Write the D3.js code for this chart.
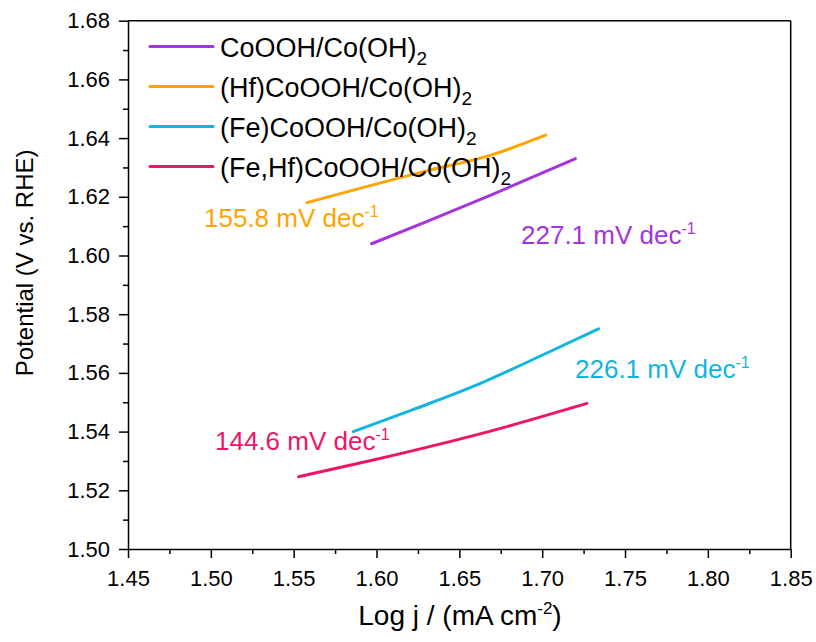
<!DOCTYPE html>
<html>
<head>
<meta charset="utf-8">
<script src="https://cdn.jsdelivr.net/npm/d3@7"></script>
<style>
  body { margin: 0; background: #fff; }
  text { font-family: "Liberation Sans", Arial, sans-serif; fill: #000; }
</style>
</head>
<body>
<script>
// data
const seriesNames = ["CoOOH/Co(OH)", "(Hf)CoOOH/Co(OH)", "(Fe)CoOOH/Co(OH)", "(Fe,Hf)CoOOH/Co(OH)"];
const seriesColors = ["#a334de", "#ffa300", "#12b4e4", "#ef1467"];
const coX = [1.597, 1.628, 1.669, 1.720];
const coY = [1.604, 1.611, 1.6206, 1.633];
const hfX = [1.558, 1.628, 1.669, 1.702];
const hfY = [1.618, 1.6285, 1.6342, 1.641];
const feX = [1.586, 1.622, 1.661, 1.698, 1.734];
const feY = [1.540, 1.5475, 1.556, 1.5655, 1.575];
const fehfX = [1.553, 1.598, 1.671, 1.727];
const fehfY = [1.5246, 1.5303, 1.5405, 1.5496];
const tafelSlopes = ["227.1", "155.8", "226.1", "144.6"];
const xTicks = [1.45, 1.50, 1.55, 1.60, 1.65, 1.70, 1.75, 1.80, 1.85];
const yTicks = [1.50, 1.52, 1.54, 1.56, 1.58, 1.60, 1.62, 1.64, 1.66, 1.68];

const margin = { top: 20.7, right: 25.3, bottom: 93, left: 128 };
const W = 816, H = 642;
const width = W - margin.left - margin.right;
const height = H - margin.top - margin.bottom;

const svg = d3.select("body").append("svg")
  .attr("width", W)
  .attr("height", H);

const g = svg.append("g")
  .attr("transform", `translate(${margin.left},${margin.top})`);

const x = d3.scaleLinear().domain([1.45, 1.85]).range([0, width]);
const y = d3.scaleLinear().domain([1.50, 1.68]).range([height, 0]);

// frame top / right
g.append("line").attr("x1", 0).attr("x2", width).attr("y1", 0).attr("y2", 0)
  .attr("stroke", "#000").attr("stroke-width", 1.5);
g.append("line").attr("x1", width).attr("x2", width).attr("y1", 0).attr("y2", height)
  .attr("stroke", "#000").attr("stroke-width", 1.5);

// minor ticks
const xMinor = d3.range(0, 8).map(i => 1.475 + i * 0.05);
const yMinor = d3.range(0, 9).map(i => 1.51 + i * 0.02);

g.append("g")
  .attr("transform", `translate(0,${height})`)
  .call(d3.axisBottom(x).tickValues(xMinor).tickSize(5).tickFormat(""))
  .call(a => a.select(".domain").remove());
g.append("g")
  .call(d3.axisLeft(y).tickValues(yMinor).tickSize(5).tickFormat(""))
  .call(a => a.select(".domain").remove());

// major axes
const xAxis = g.append("g")
  .attr("transform", `translate(0,${height})`)
  .call(d3.axisBottom(x).tickValues(xTicks).tickSize(9).tickPadding(12).tickSizeOuter(0)
    .tickFormat(d3.format(".2f")));
const yAxis = g.append("g")
  .call(d3.axisLeft(y).tickValues(yTicks).tickSize(9).tickPadding(9).tickSizeOuter(0)
    .tickFormat(d3.format(".2f")));

[xAxis, yAxis].forEach(a => {
  a.selectAll("line").attr("stroke-width", 1.5);
  a.select(".domain").attr("stroke-width", 1.5);
  a.selectAll("text")
    .style("font-family", "'Liberation Sans', Arial, sans-serif")
    .style("font-size", "22px")
    .attr("fill", "#000");
});
svg.selectAll(".tick line").attr("stroke-width", 1.5);

// axis titles
const yTitle = svg.append("text")
  .attr("transform", `translate(33,${margin.top + height / 2 - 22}) rotate(-90)`)
  .attr("text-anchor", "middle")
  .style("font-size", "24px")
  .text("Potential (V vs. RHE)");

const xTitle = svg.append("text")
  .attr("x", 460)
  .attr("y", 625)
  .attr("text-anchor", "middle")
  .style("font-size", "28px");
xTitle.append("tspan").text("Log j / (mA cm");
xTitle.append("tspan").attr("dy", -11).style("font-size", "17px").text("-2");
xTitle.append("tspan").attr("dy", 11).text(")");

// curves
const seriesData = [
  coX.map((v, i) => [v, coY[i]]),
  hfX.map((v, i) => [v, hfY[i]]),
  feX.map((v, i) => [v, feY[i]]),
  fehfX.map((v, i) => [v, fehfY[i]])
];

const line = d3.line()
  .x(d => x(d[0]))
  .y(d => y(d[1]))
  .curve(d3.curveMonotoneX);

g.selectAll(".curve")
  .data(seriesData)
  .enter().append("path")
  .attr("class", "curve")
  .attr("d", line)
  .attr("fill", "none")
  .attr("stroke", (d, i) => seriesColors[i])
  .attr("stroke-width", 3)
  .attr("stroke-linecap", "round");

// legend
const legend = svg.append("g");
seriesNames.forEach((name, i) => {
  const ly = 46.5 + i * 40;
  legend.append("line")
    .attr("x1", 150).attr("x2", 213)
    .attr("y1", ly).attr("y2", ly)
    .attr("stroke", seriesColors[i])
    .attr("stroke-width", 3)
    .attr("stroke-linecap", "round");
  const t = legend.append("text")
    .attr("x", 220)
    .attr("y", ly + 10)
    .style("font-size", "27px");
  t.append("tspan").text(name);
  t.append("tspan").attr("dy", 8).style("font-size", "19px").text("2");
});

// tafel slope labels
const slopePos = [[521, 244], [204, 227], [575, 378], [215, 450]];
tafelSlopes.forEach((s, i) => {
  const t = svg.append("text")
    .attr("x", slopePos[i][0])
    .attr("y", slopePos[i][1])
    .attr("fill", seriesColors[i])
    .style("fill", seriesColors[i])
    .style("font-size", "26px");
  t.append("tspan").text(`${s} mV dec`);
  t.append("tspan").attr("dy", -10).style("font-size", "16px").text("-1");
});
</script>
</body>
</html>
